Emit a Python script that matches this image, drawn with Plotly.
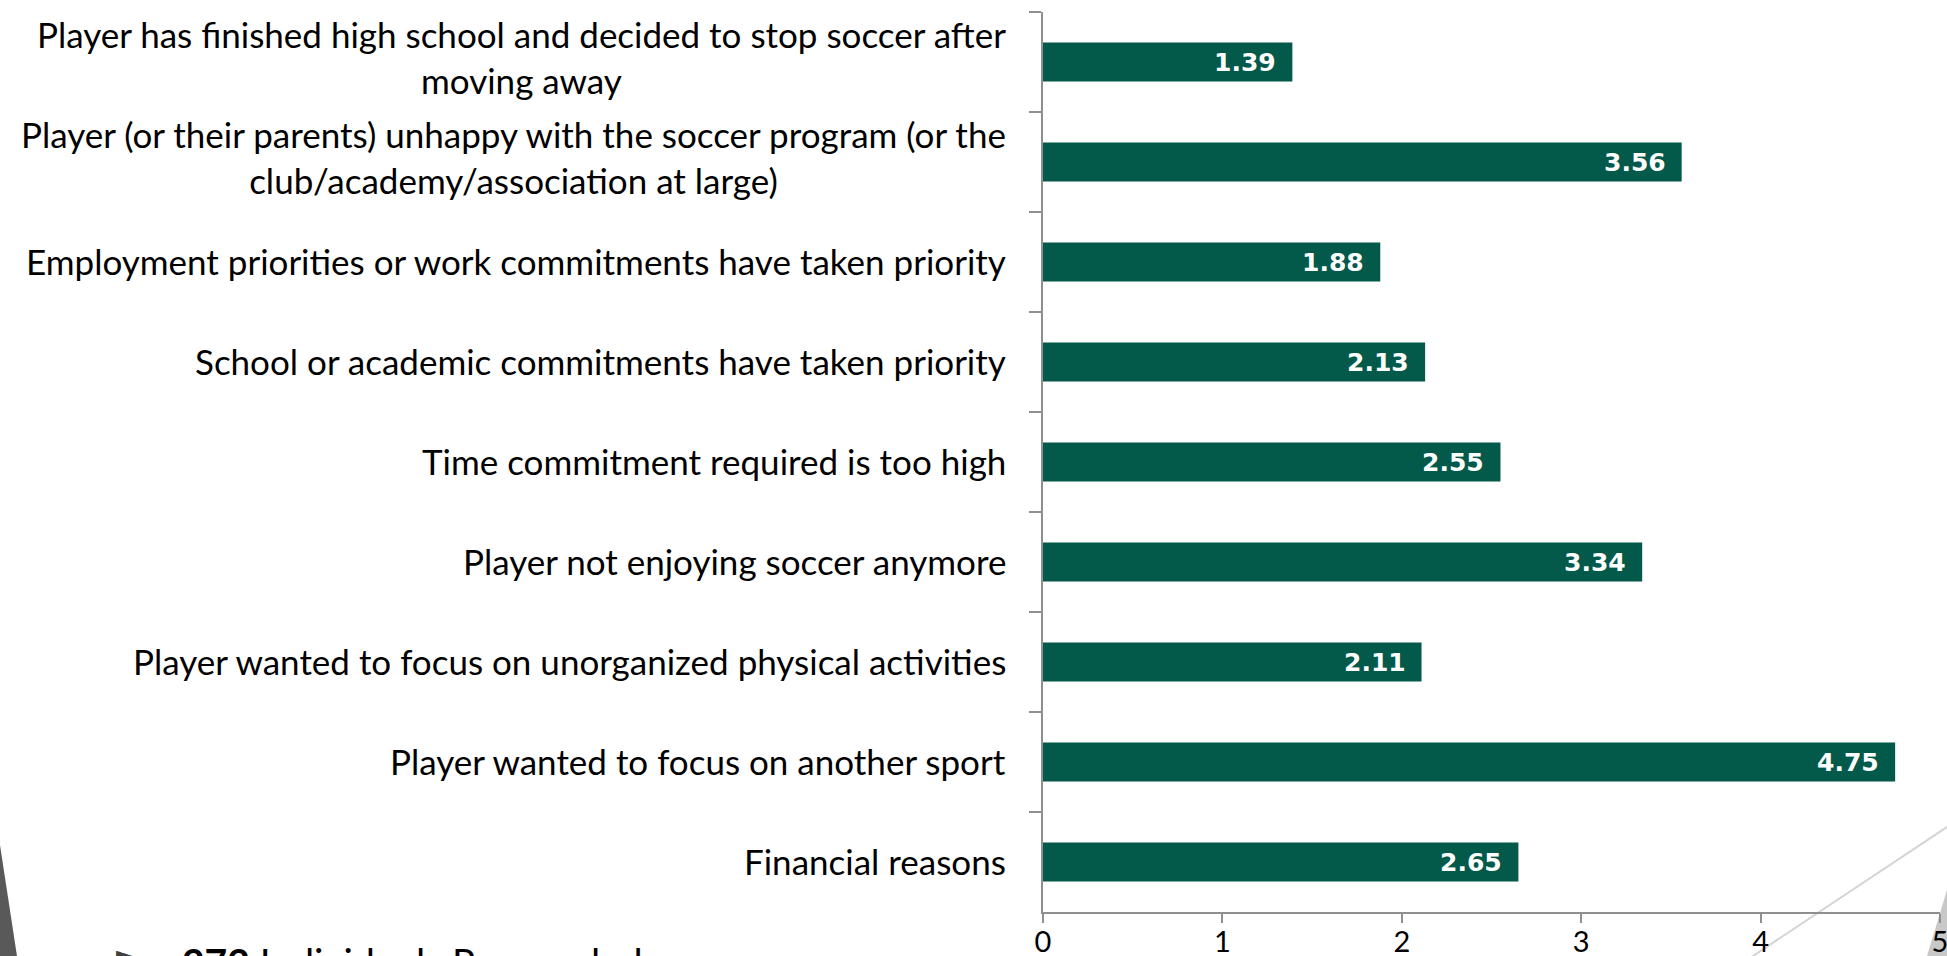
import plotly.graph_objects as go

# ---------------- data ----------------
categories = [
    "Player has finished high school and decided to stop soccer after<br>moving away",
    "Player (or their parents) unhappy with the soccer program (or the<br>club/academy/association at large)",
    "Employment priorities or work commitments have taken priority",
    "School or academic commitments have taken priority",
    "Time commitment required is too high",
    "Player not enjoying soccer anymore",
    "Player wanted to focus on unorganized physical activities",
    "Player wanted to focus on another sport",
    "Financial reasons",
]
values = [1.39, 3.56, 1.88, 2.13, 2.55, 3.34, 2.11, 4.75, 2.65]
x_ticks = [0, 1, 2, 3, 4, 5]
respondents = 272
footnote = "Individuals Responded"

# ---------------- layout geometry ----------------
W, H = 1947, 956
L, R, T, B = 1043, 7, 12, 44
PW, PH = W - L - R, H - T - B


def px(x):
    return (x - L) / PW


def py(y):
    return (H - B - y) / PH


BAR = "#03594a"
AXIS = "#8f8f8f"
LABEL_FONT = "Lato"

fig = go.Figure()
fig.add_trace(go.Bar(
    x=values, y=categories, orientation="h",
    marker=dict(color=BAR, line=dict(width=0)),
    hoverinfo="skip",
))

annotations = []
for cat, v in zip(categories, values):
    annotations.append(dict(
        x=v, y=cat, xref="x", yref="y", text=f"{v:.2f}",
        xanchor="right", yanchor="middle", xshift=-14, showarrow=False,
        font=dict(family="DejaVu Sans", size=25, color="white", weight="bold"),
    ))
    annotations.append(dict(
        x=0, y=cat, xref="paper", yref="y", text=cat,
        xanchor="right", yanchor="middle", xshift=-35,
        yshift=5 if "<br>" in cat else 1, showarrow=False,
        align="center",
        font=dict(family=LABEL_FONT, size=35, color="black"),
    ))

annotations.append(dict(
    x=px(180), y=py(937), xref="paper", yref="paper",
    text=f"<b>{respondents}</b> {footnote}",
    xanchor="left", yanchor="top", showarrow=False,
    font=dict(family=LABEL_FONT, size=39, color="black"),
))
annotations.append(dict(
    x=px(114), y=py(940), xref="paper", yref="paper",
    text="►", xanchor="left", yanchor="top", showarrow=False,
    font=dict(family="DejaVu Sans", size=22, color="#404040"),
))

shapes = [
    dict(type="path", xref="paper", yref="paper", layer="below",
         path=f"M {px(0)},{py(845)} L {px(18.5)},{py(966)} L {px(-5)},{py(966)} L {px(-5)},{py(845)} Z",
         fillcolor="#595959", line=dict(width=0)),
    dict(type="line", xref="paper", yref="paper", layer="below",
         x0=px(1738), y0=py(966), x1=px(1960), y1=py(818.4),
         line=dict(color="#d4d4d4", width=2)),
    dict(type="path", xref="paper", yref="paper", layer="below",
         path=f"M {px(1947)},{py(890)} L {px(1924)},{py(966)} L {px(1960)},{py(966)} L {px(1960)},{py(890)} Z",
         fillcolor="#c8c8c8", line=dict(width=0)),
]

fig.update_layout(
    width=W, height=H,
    margin=dict(l=L, r=R, t=T, b=B, pad=0),
    paper_bgcolor="white", plot_bgcolor="rgba(0,0,0,0)",
    bargap=0.61, showlegend=False,
    annotations=annotations, shapes=shapes,
    xaxis=dict(
        range=[0, 5], tickvals=x_ticks, ticktext=[str(t) for t in x_ticks],
        ticks="outside", ticklen=9, tickwidth=2, tickcolor=AXIS,
        showline=True, linecolor=AXIS, linewidth=2,
        showgrid=False, zeroline=False, automargin=False,
        ticklabeloverflow="allow", ticklabelstandoff=-6,
        tickfont=dict(family=LABEL_FONT, size=29, color="black"),
        fixedrange=True,
    ),
    yaxis=dict(
        type="category", autorange="reversed",
        showticklabels=False, ticks="outside", ticklen=12, tickwidth=2,
        tickcolor=AXIS, tickson="boundaries", automargin=False,
        showline=True, linecolor=AXIS, linewidth=2,
        showgrid=False, zeroline=False, fixedrange=True,
    ),
)

fig.write_html(
    "out.html",
    config={"displayModeBar": False},
    post_script="document.body.style.margin='0';document.body.style.overflow='hidden';",
)
